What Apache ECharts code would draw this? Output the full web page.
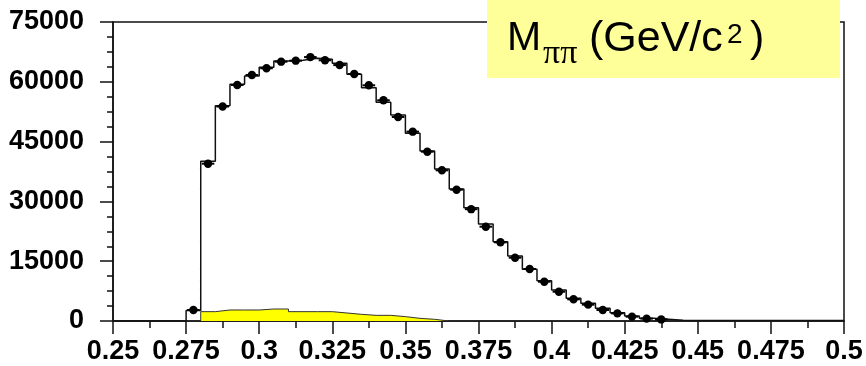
<!DOCTYPE html>
<html><head><meta charset="utf-8">
<script src="https://cdn.jsdelivr.net/npm/echarts@6/dist/echarts.min.js"></script>
<style>html,body{margin:0;padding:0;background:#fff}#c{width:866px;height:366px}</style>
</head><body><div id="c"></div>
<script>
// Bin edges of the M_pipi histogram (GeV/c^2)
const binEdges = [0.25,0.255,0.26,0.265,0.27,0.275,0.28,0.285,0.29,0.295,0.3,0.305,0.31,0.315,0.32,0.325,0.33,0.335,0.34,0.345,0.35,0.355,0.36,0.365,0.37,0.375,0.38,0.385,0.39,0.395,0.4,0.405,0.41,0.415,0.42,0.425,0.43,0.435,0.44,0.445,0.45,0.455,0.46,0.465,0.47,0.475,0.48,0.485,0.49,0.495,0.5];
// Monte Carlo histogram (black step line), one value per bin
const mcHist = [0,0,0,0,0,2630,40100,54000,59370,61450,63640,65200,65400,65900,65650,64640,61880,58530,54860,51670,47080,42640,38130,33110,28430,24330,19900,16300,12960,10110,7780,5690,4430,3180,2090,1250,700,450,200,120,120,120,120,120,120,120,120,120,120,120];
// Data points (black dots), one value per bin
const dataCounts = [null,null,null,null,null,2760,39460,53800,59200,61700,63400,65050,65300,66200,65400,64200,61960,59120,55360,51170,47490,42470,37800,32940,28050,23660,19740,15880,13040,9860,7350,5440,4100,2760,1920,1090,600,400,null,null,null,null,null,null,null,null,null,null,null,null];
// Background histogram (yellow area), one value per bin
const bkgHist = [0,0,0,0,0,0,2340,2760,2760,2760,3010,3010,2340,2340,2340,2010,1670,1420,1420,1090,670,420,0,0,0,0,0,0,0,0,0,0,0,0,0,0,0,0,0,0,0,0,0,0,0,0,0,0,0,0];
// Tick labels
const xTickLabels = ['0.25','0.275','0.3','0.325','0.35','0.375','0.4','0.425','0.45','0.475','0.5'];
const yTickLabels = ['0','15000','30000','45000','60000','75000'];

const stepData = arr => binEdges.map((e,i) => [e, i < arr.length ? arr[i] : arr[arr.length-1]]);
const pointData = [];
dataCounts.forEach((v,i) => { if (v !== null) pointData.push([binEdges[i], binEdges[i+1], v]); });

const FONT = "'Liberation Sans', Arial, Helvetica, sans-serif";
const chart = echarts.init(document.getElementById('c'), null, {renderer:'canvas'});
chart.setOption({
  animation: false,
  backgroundColor: '#fff',
  grid: {left:113, right:22, top:22, bottom:45, show:true, borderColor:'#111', borderWidth:1.5, backgroundColor:'transparent'},
  xAxis: {
    type:'value', min:0.25, max:0.5, interval:0.025,
    axisLine:{show:true, onZero:false, lineStyle:{color:'#111', width:1.5}},
    axisTick:{show:true, inside:false, length:13, lineStyle:{color:'#111', width:1.5}},
    minorTick:{show:true, splitNumber:2, length:7, lineStyle:{color:'#111', width:1.5}},
    splitLine:{show:false},
    axisLabel:{margin:17, fontSize:27, fontWeight:'bold', fontFamily:FONT, color:'#000',
      showMinLabel:true, showMaxLabel:true,
      formatter: v => xTickLabels[Math.round((v-0.25)/0.025)]}
  },
  yAxis: {
    type:'value', min:0, max:75000, interval:15000,
    axisLine:{show:true, lineStyle:{color:'#111', width:1.5}},
    axisTick:{show:true, inside:false, length:13, lineStyle:{color:'#111', width:1.5}},
    minorTick:{show:true, splitNumber:4, length:6, lineStyle:{color:'#111', width:1.5}},
    splitLine:{show:false},
    axisLabel:{margin:29, fontSize:27, fontWeight:'bold', fontFamily:FONT, color:'#000',
      formatter: v => yTickLabels[Math.round(v/15000)]}
  },
  series: [
    {type:'line', step:'end', data: stepData(bkgHist), symbol:'none', z:2,
     lineStyle:{color:'#333', width:1}, areaStyle:{color:'#ffff00', opacity:1}},
    {type:'line', step:'end', data: stepData(mcHist), symbol:'none', z:3,
     lineStyle:{color:'#111', width:1.5}},
    {type:'custom', z:4, data: pointData, encode:{x:[0,1], y:2},
     renderItem: (params, api) => {
       const lo = api.coord([api.value(0), api.value(2)]);
       const hi = api.coord([api.value(1), api.value(2)]);
       const cx = (lo[0]+hi[0])/2;
       return {type:'group', children:[
         {type:'line', shape:{x1:lo[0]+1, y1:lo[1], x2:hi[0]-1, y2:hi[1]}, style:{stroke:'#000', lineWidth:2}},
         {type:'circle', shape:{cx:cx, cy:lo[1], r:4.2}, style:{fill:'#000'}}
       ]};
     }}
  ],
  graphic: [
    {type:'rect', z:100, shape:{x:487, y:0, width:353, height:78}, style:{fill:'#ffff99'}},
    {type:'text', z:101, x:507, y:39, style:{text:'M', fontSize:41, fontFamily:FONT, fill:'#000', align:'left', verticalAlign:'middle'}},
    {type:'text', z:101, x:543, y:54, style:{text:'ππ', fontSize:34, fontFamily:"'Liberation Serif', 'Times New Roman', serif", fill:'#000', align:'left', verticalAlign:'middle'}},
    {type:'text', z:101, x:589, y:39, style:{text:'(GeV/c', fontSize:43, fontFamily:FONT, fill:'#000', align:'left', verticalAlign:'middle'}},
    {type:'text', z:101, x:727, y:35, style:{text:'2', fontSize:28, fontFamily:FONT, fill:'#000', align:'left', verticalAlign:'middle'}},
    {type:'text', z:101, x:750, y:39, style:{text:')', fontSize:43, fontFamily:FONT, fill:'#000', align:'left', verticalAlign:'middle'}}
  ]
});
</script></body></html>
